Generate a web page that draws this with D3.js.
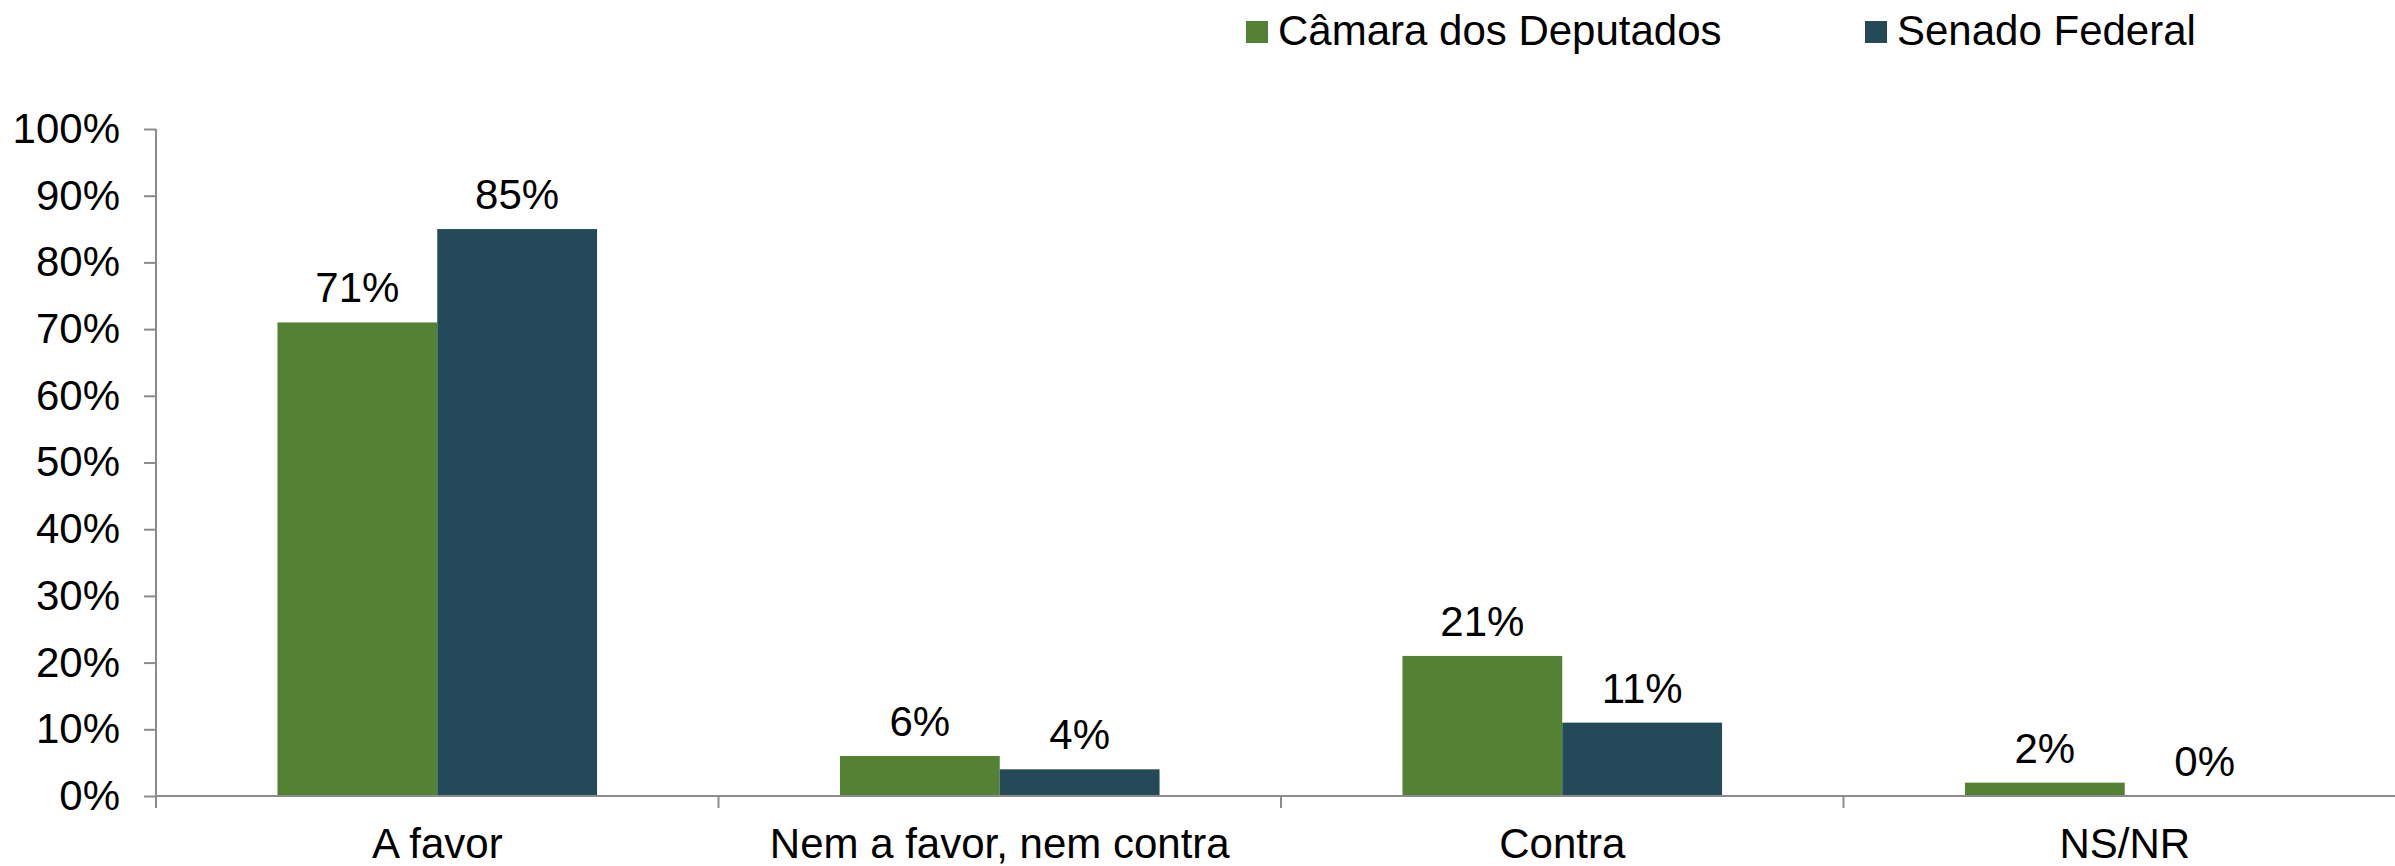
<!DOCTYPE html>
<html>
<head>
<meta charset="utf-8">
<script src="https://cdn.jsdelivr.net/npm/d3@7"></script>
<style>
  body { margin: 0; background: #fff; }
  svg { display: block; font-family: "Liberation Sans", Arial, sans-serif; }
</style>
</head>
<body>
<div id="chart"></div>
<script>
// ---- data ----
const categories = ['A favor', 'Nem a favor, nem contra', 'Contra', 'NS/NR'];
const seriesNames = ['Câmara dos Deputados', 'Senado Federal'];
const camaraValues = [71, 6, 21, 2];
const senadoValues = [85, 4, 11, 0];
const yTicks = [0, 10, 20, 30, 40, 50, 60, 70, 80, 90, 100];

const colors = ['#548235', '#244a5a'];
const seriesValues = [camaraValues, senadoValues];

const width = 2395, height = 866;
// plot area (right edge runs past the window, as in the original)
const plot = {left: 156, right: 2406, top: 129, bottom: 796};
const fontSize = 42;

const svg = d3.select('#chart').append('svg')
  .attr('width', width)
  .attr('height', height);

const x = d3.scaleBand()
  .domain(categories)
  .range([plot.left, plot.right])
  .paddingInner(0)
  .paddingOuter(0);

// two bars side by side, centred in each category
const xInner = d3.scaleBand()
  .domain(seriesNames)
  .range([0, x.bandwidth()])
  .paddingOuter(0.76)
  .paddingInner(0);

const y = d3.scaleLinear()
  .domain([0, 100])
  .range([plot.bottom, plot.top]);

// ---- y axis ----
const yAxis = d3.axisLeft(y)
  .tickValues(yTicks)
  .tickFormat(d => d + '%')
  .tickSize(12)
  .tickPadding(24)
  .tickSizeOuter(0);

const yAxisGroup = svg.append('g')
  .attr('transform', `translate(${plot.left},0)`)
  .call(yAxis);

yAxisGroup.select('.domain').remove();
yAxisGroup.selectAll('.tick line').attr('stroke', '#8c8c8c').attr('stroke-width', 2);
yAxisGroup.selectAll('.tick text')
  .attr('font-size', fontSize)
  .attr('fill', '#000')
  .attr('font-family', '"Liberation Sans", Arial, sans-serif');

// vertical axis line (extends down to the first category tick)
svg.append('line')
  .attr('x1', plot.left).attr('x2', plot.left)
  .attr('y1', plot.top).attr('y2', plot.bottom + 12)
  .attr('stroke', '#8c8c8c').attr('stroke-width', 2);

// ---- bars ----
const groups = svg.append('g').selectAll('g.cat')
  .data(categories)
  .join('g')
  .attr('class', 'cat')
  .attr('transform', d => `translate(${x(d)},0)`);

const barData = (c, i) => seriesNames.map((s, j) => ({series: s, idx: j, value: seriesValues[j][i]}));

groups.selectAll('rect')
  .data(barData)
  .join('rect')
  .attr('x', d => xInner(d.series))
  .attr('width', xInner.bandwidth())
  .attr('y', d => y(d.value))
  .attr('height', d => y(0) - y(d.value))
  .attr('fill', d => colors[d.idx]);

groups.selectAll('text.value')
  .data(barData)
  .join('text')
  .attr('class', 'value')
  .attr('x', d => xInner(d.series) + xInner.bandwidth() / 2)
  .attr('y', d => y(d.value) - 20)
  .attr('text-anchor', 'middle')
  .attr('font-size', fontSize)
  .attr('fill', '#000')
  .text(d => d.value + '%');

// ---- x axis ----
svg.append('line')
  .attr('x1', plot.left).attr('x2', plot.right)
  .attr('y1', plot.bottom).attr('y2', plot.bottom)
  .attr('stroke', '#8c8c8c').attr('stroke-width', 2);

svg.append('g').selectAll('line')
  .data(categories.slice(1))
  .join('line')
  .attr('x1', d => x(d)).attr('x2', d => x(d))
  .attr('y1', plot.bottom).attr('y2', plot.bottom + 12)
  .attr('stroke', '#8c8c8c').attr('stroke-width', 2);

svg.append('g').selectAll('text')
  .data(categories)
  .join('text')
  .attr('x', d => x(d) + x.bandwidth() / 2)
  .attr('y', 858)
  .attr('text-anchor', 'middle')
  .attr('font-size', fontSize)
  .attr('fill', '#000')
  .text(d => d);

// ---- legend ----
const legendX = [1246, 1865];
const legend = svg.append('g').selectAll('g')
  .data(seriesNames)
  .join('g')
  .attr('transform', (d, i) => `translate(${legendX[i]},0)`);

legend.append('rect')
  .attr('x', 0).attr('y', 21)
  .attr('width', 22).attr('height', 22)
  .attr('fill', (d, i) => colors[i]);

legend.append('text')
  .attr('x', 32)
  .attr('y', 45)
  .attr('font-size', fontSize)
  .attr('fill', '#000')
  .text(d => d);
</script>
</body>
</html>
